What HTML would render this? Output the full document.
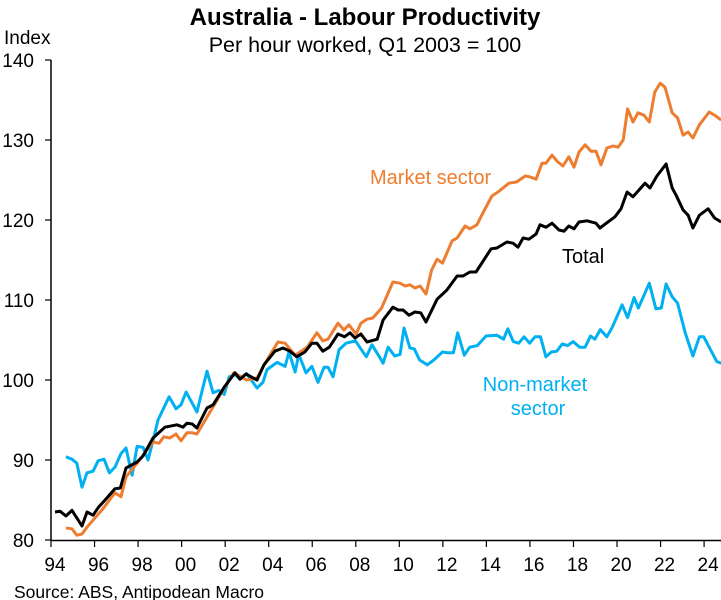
<!DOCTYPE html>
<html><head><meta charset="utf-8"><style>
html,body{margin:0;padding:0;background:#fff;}
svg{display:block;font-family:"Liberation Sans",Arial,sans-serif;}
</style></head><body>
<svg id="chart" width="721" height="600" viewBox="0 0 721 600">
<text x="365" y="25" text-anchor="middle" font-size="24" font-weight="bold">Australia - Labour Productivity</text>
<text x="365" y="52" text-anchor="middle" font-size="21.5">Per hour worked, Q1 2003 = 100</text>
<text x="4" y="44" font-size="19">Index</text>
<text x="14" y="598" font-size="17.5">Source: ABS, Antipodean Macro</text>
<g id="axes"></g>
<g id="series"></g>
<text x="370" y="184" font-size="20" fill="#ED7D31">Market sector</text>
<text x="562" y="263" font-size="20" fill="#000">Total</text>
<text x="535" y="391" text-anchor="middle" font-size="20" fill="#00B0F0">Non-market</text>
<text x="538" y="415" text-anchor="middle" font-size="20" fill="#00B0F0">sector</text>
</svg>
<script>
const yTicks=[80,90,100,110,120,130,140];
const xTickYears=[1994,1996,1998,2000,2002,2004,2006,2008,2010,2012,2014,2016,2018,2020,2022,2024];
const xTickLabels=["94","96","98","00","02","04","06","08","10","12","14","16","18","20","22","24"];
const totalYears=[1994,1994.23,1994.5,1994.78,1995.24,1995.47,1995.75,1996,1996.3,1996.75,1997,1997.26,1997.77,1998.04,1998.5,1999.05,1999.6,1999.88,2000.06,2000.3,2000.52,2000.98,2001.26,2001.77,2002.27,2002.5,2002.77,2003.28,2003.6,2004.1,2004.47,2004.8,2005.1,2005.48,2005.8,2006.03,2006.3,2006.6,2007,2007.3,2007.55,2007.78,2008.05,2008.33,2008.8,2009.07,2009.52,2009.76,2009.99,2010.26,2010.53,2010.8,2011.04,2011.55,2012,2012.47,2012.74,2013.06,2013.34,2014.03,2014.3,2014.76,2015.04,2015.27,2015.5,2015.77,2016.1,2016.28,2016.55,2016.83,2017.15,2017.38,2017.6,2017.84,2018.07,2018.44,2018.85,2019.03,2019.72,2020,2020.28,2020.55,2021.1,2021.33,2021.65,2022.07,2022.35,2022.53,2022.85,2023.08,2023.3,2023.6,2024,2024.3,2024.6];
const totalValues=[83.5,83.6,83,83.7,81.75,83.5,83.1,84.1,85,86.4,86.5,89,89.75,90.5,92.75,94.1,94.4,94.1,94.6,94.5,94,96.5,96.9,99.1,100.9,100.1,100.75,100,101.9,103.6,104,103.6,102.9,103.5,104.6,104.6,103.6,104.1,105.75,105.4,105.9,105.25,105.75,104.75,105.1,107.5,109.1,108.75,108.75,108.1,108.5,108.4,107.25,110.1,111.25,113,113,113.5,113.5,116.4,116.5,117.25,117.1,116.6,117.75,117.6,118.25,119.4,119.1,119.6,118.75,118.6,119.25,118.9,119.75,119.9,119.6,119,120.4,121.4,123.5,122.9,124.6,124,125.5,127,124,123.1,121.25,120.6,119,120.6,121.4,120.25,119.75];
const marketYears=[1994.5,1994.78,1995,1995.24,1995.47,1996.2,1996.75,1997.03,1997.26,1997.77,1998.5,1998.78,1999,1999.28,1999.56,1999.79,2000.06,2000.3,2000.52,2001.8,2002.22,2002.8,2003.28,2003.65,2004.24,2004.57,2005.03,2005.58,2006.03,2006.3,2006.54,2007,2007.27,2007.5,2007.83,2008.05,2008.33,2008.6,2009,2009.52,2009.85,2010.08,2010.3,2010.53,2010.77,2011.04,2011.3,2011.55,2011.8,2012.24,2012.47,2012.84,2013.06,2013.38,2013.66,2014.07,2014.35,2014.85,2015.2,2015.6,2015.8,2016.1,2016.37,2016.55,2016.83,2017.1,2017.33,2017.6,2017.84,2018.07,2018.35,2018.62,2018.85,2019.08,2019.35,2019.63,2019.86,2020.1,2020.3,2020.55,2020.78,2021.05,2021.3,2021.55,2021.8,2022.02,2022.35,2022.6,2022.85,2023.08,2023.3,2023.6,2024.05,2024.3,2024.6];
const marketValues=[81.5,81.4,80.6,80.75,81.6,83.9,85.9,85.4,87.9,89.6,92.25,92.1,92.9,92.75,93.25,92.4,93.4,93.4,93.25,99.1,100.9,100,100.25,102.1,104.75,104.6,103.1,104.1,105.9,104.9,105.1,107.1,106.25,106.9,105.75,107.1,107.6,107.75,109,112.25,112.1,111.75,111.9,111.5,111.75,110.75,113.75,115.1,114.6,117.4,117.75,119.25,118.9,119.4,120.9,123,123.5,124.6,124.75,125.5,125.4,125.1,127.1,127.1,128.1,127.25,126.75,127.9,126.6,128.5,129.4,128.6,128.6,126.9,129,129.25,129.1,130,133.9,132.25,133.4,133.1,132.25,136,137.1,136.6,133.4,132.75,130.6,131,130.25,131.9,133.5,133.1,132.5];
const nonMarketYears=[1994.5,1994.78,1995,1995.24,1995.47,1995.75,1995.98,1996.25,1996.5,1996.75,1997.03,1997.26,1997.54,1997.77,1998.04,1998.27,1998.5,1998.73,1999.24,1999.56,1999.79,2000.02,2000.3,2000.52,2000.8,2000.98,2001.26,2001.53,2001.77,2002,2002.27,2002.5,2002.8,2003.28,2003.55,2003.74,2004.2,2004.57,2004.75,2005.03,2005.2,2005.53,2005.8,2006.08,2006.36,2006.54,2006.77,2007.05,2007.37,2007.8,2008.3,2008.56,2008.9,2009.07,2009.3,2009.6,2009.85,2010.03,2010.3,2010.5,2010.75,2011.1,2011.4,2011.8,2012.05,2012.3,2012.5,2012.8,2013.05,2013.4,2013.8,2014.3,2014.6,2014.8,2015.05,2015.3,2015.55,2015.8,2016.05,2016.3,2016.55,2016.8,2017.05,2017.3,2017.55,2017.8,2018.1,2018.35,2018.6,2018.8,2019.05,2019.35,2019.6,2020.05,2020.3,2020.6,2020.8,2021.3,2021.6,2021.85,2022.07,2022.35,2022.6,2022.95,2023.3,2023.6,2023.8,2024.4,2024.6];
const nonMarketValues=[90.4,90.1,89.6,86.6,88.4,88.6,89.9,90.1,88.4,89.1,90.8,91.5,88.1,91.7,91.6,90,92.4,95,97.9,96.4,96.9,98.5,97.1,96,99.1,101.1,98.4,98.7,98.2,100.4,100.7,100.1,100.8,99,99.7,101.3,102.2,101.7,103.5,101,103.2,100.9,101.7,99.7,101.6,101.6,100.4,103.8,104.6,104.9,102.9,104.4,102.9,102.1,104.1,103,103.2,106.5,104,103.9,102.5,101.9,102.5,103.5,103.4,103.4,105.9,103.1,104.1,104.3,105.5,105.6,105.1,106.4,104.8,104.6,105.4,104.6,105.4,105.4,102.9,103.5,103.6,104.5,104.3,104.8,104.1,104.1,105.5,105.1,106.3,105.4,106.6,109.4,107.8,110.3,109,112.1,108.9,109,112,110.4,109.6,105.9,103,105.4,105.4,102.3,102.1];

const NS="http://www.w3.org/2000/svg";
function xScale(yr){return 55+(yr-1994)*21.77;}
function yScale(v){return 540-(v-80)*8;}
function mk(tag,attrs,parent){const e=document.createElementNS(NS,tag);for(const k in attrs)e.setAttribute(k,attrs[k]);parent.appendChild(e);return e;}
const axes=document.getElementById('axes');
const yAxis=mk('line',{x1:51,y1:60,x2:51,y2:541,stroke:'#000','stroke-width':1.5},axes);


const xAxis=mk('line',{x1:51,y1:540.5,x2:721,y2:540.5,stroke:'#000','stroke-width':1.5},axes);


yTicks.forEach(v=>{
  const y=yScale(v);
  const t=mk('line',{x1:45,y1:y,x2:51,y2:y,stroke:'#000','stroke-width':1.2},axes);
  
  
  const l=mk('text',{x:34,y:y+7,'text-anchor':'end','font-size':19},axes);
  l.textContent=v;
  
  
});
xTickYears.forEach((yr,i)=>{
  const x=xScale(yr)-4;
  const t=mk('line',{x1:x,y1:540,x2:x,y2:547,stroke:'#000','stroke-width':1.2},axes);
  
  
  const l=mk('text',{x:x+4,y:571,'text-anchor':'middle','font-size':19},axes);
  l.textContent=xTickLabels[i];
  
  
});
const series=document.getElementById('series');
function line(years,vals,color,name){
  const d=years.map((yr,i)=>(i?'L':'M')+xScale(yr).toFixed(1)+','+yScale(vals[i]).toFixed(1)).join(' ');
  const p=mk('path',{d:d,fill:'none',stroke:color,'stroke-width':3,'stroke-linejoin':'round'},series);
  
  
}
line(nonMarketYears,nonMarketValues,'#00B0F0','non-market-sector-line');
line(marketYears,marketValues,'#ED7D31','market-sector-line');
line(totalYears,totalValues,'#000000','total-line');
</script>
</body></html>
